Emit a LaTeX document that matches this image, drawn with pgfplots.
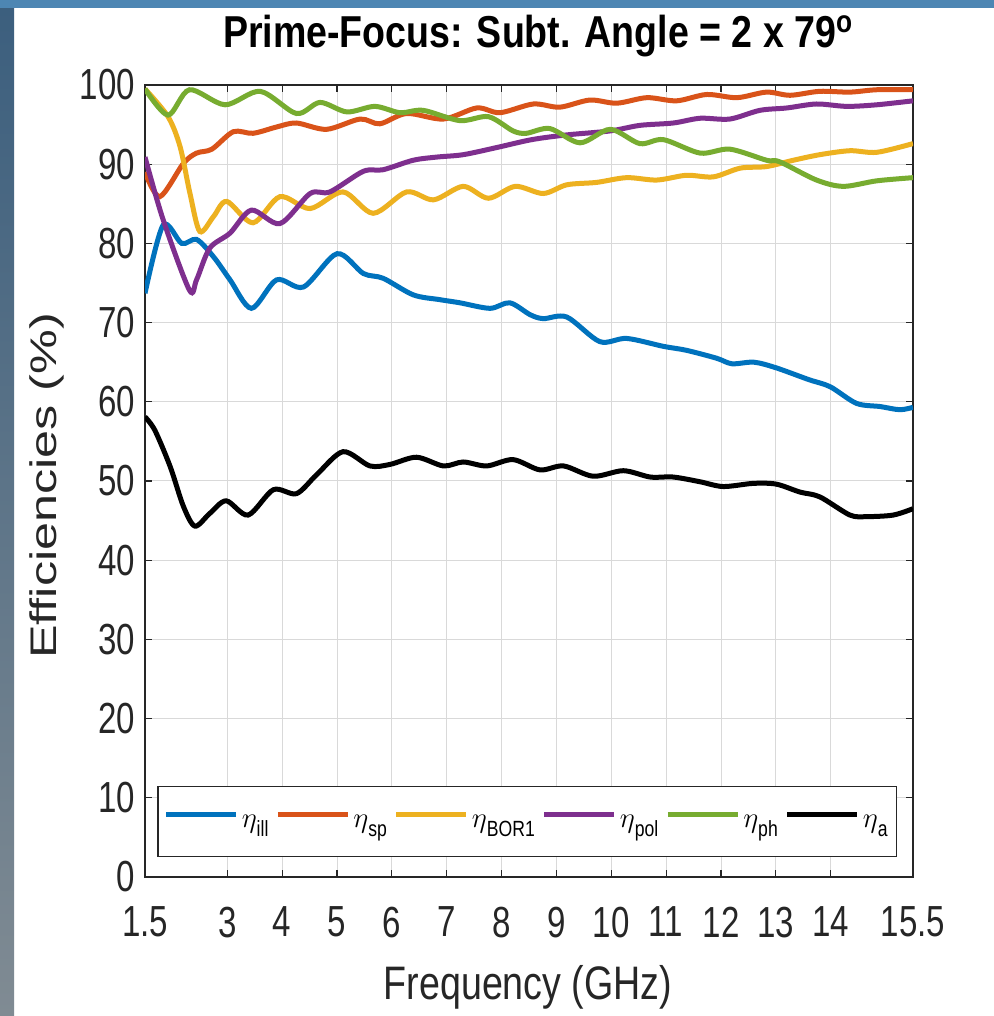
\documentclass[border=0pt]{standalone}
\usepackage{fontspec}
\setmainfont{Liberation Sans}[FakeStretch=0.8]
\newfontfamily\tickfont{Liberation Sans}[FakeStretch=0.76]
\newfontfamily\ylabfont{Liberation Sans}[FakeStretch=1.36]
\newfontfamily\titlefont{Liberation Sans}[FakeStretch=0.84]
\usepackage{pgfplots}
\pgfplotsset{compat=1.18}
\definecolor{mblue}{rgb}{0,0.447,0.741}
\definecolor{morange}{rgb}{0.850,0.325,0.098}
\definecolor{myellow}{rgb}{0.929,0.694,0.125}
\definecolor{mpurple}{rgb}{0.494,0.184,0.556}
\definecolor{mgreen}{rgb}{0.466,0.674,0.188}
\definecolor{axgray}{rgb}{0.15,0.15,0.15}
\definecolor{bandtop}{HTML}{4D86B3}
\definecolor{stripA}{HTML}{3C5F7E}
\definecolor{stripB}{HTML}{808B93}
\newcommand{\leg}[1]{$\eta$\raisebox{-4.5pt}{\fontsize{11}{12}\selectfont #1}}
\begin{document}
\begin{tikzpicture}
\useasboundingbox (0,0) rectangle (497pt,508pt);
\fill[white] (0,0) rectangle (497pt,508pt);
\shade[top color=stripA,bottom color=stripB] (0,0) rectangle (7pt,504pt);
\fill[bandtop] (0,504pt) rectangle (497pt,508pt);
\begin{axis}[
  at={(72.5pt,69.5pt)}, anchor=south west,
  scale only axis, width=384pt, height=396pt,
  xmin=1.5, xmax=15.5, ymin=0, ymax=100,
  xtick={1.5,3,4,5,6,7,8,9,10,11,12,13,14,15.5},
  ytick={0,10,...,100},
  /pgf/number format/assume math mode=true,
  tick label style={font=\tickfont\fontsize{21.75}{24}\selectfont, text=axgray},
  xticklabel style={yshift=-11.5pt},
  yticklabel style={xshift=-1.5pt},
  tick align=inside,
  major tick length=3.5pt,
  every tick/.style={axgray, line width=0.6pt},
  axis line style={axgray, line width=0.9pt},
  grid=major,
  major grid style={gray!30, line width=0.5pt},
  title={\titlefont\bfseries Prime-Focus: Subt. Angle = 2 x 79\textsuperscript{o}},
  title style={at={(axis description cs:0.512,1.0316)}, anchor=base, font=\fontsize{22.35}{26}\selectfont},
  xlabel={Frequency (GHz)},
  xlabel style={at={(axis description cs:0.4987,-0.155)}, anchor=base, font=\fontsize{23.5}{26}\selectfont, text=axgray},
  ylabel={\ylabfont Efficiencies (\%)},
  ylabel style={at={(axis description cs:-0.1146,0.494)}, anchor=base, font=\fontsize{18.5}{20}\selectfont, text=axgray},
  legend columns=6,
  legend cell align=left,
  legend image code/.code={\draw[#1] (0pt,3.5pt) -- (35pt,3.5pt);},
  legend style={at={(axis description cs:0.0156,0.025)}, anchor=south west,
    draw=axgray, line width=0.8pt, fill=white, inner xsep=3pt, inner ysep=4pt,
    font=\fontsize{13.5}{15}\selectfont,
    /tikz/every even column/.append style={column sep=2pt},
    nodes={inner xsep=1.5pt, inner ysep=2pt, text height=14.5pt, text depth=8.5pt}},
  every axis plot/.append style={line width=2.5pt, smooth, tension=0.5},
]
\addplot[mblue] coordinates {(1.5,73.7)(1.83,82.3)(2.17,80.0)(2.44,80.5)(2.75,78.3)(3.05,75.4)(3.44,71.8)(3.9,75.4)(4.39,74.5)(5.0,78.7)(5.48,76.2)(5.84,75.6)(6.39,73.5)(6.87,72.9)(7.24,72.5)(7.79,71.8)(8.15,72.5)(8.52,71.0)(8.76,70.5)(9.19,70.7)(9.79,67.6)(10.28,68.0)(10.95,67.0)(11.37,66.5)(11.92,65.5)(12.2,64.8)(12.6,65.0)(13.0,64.3)(13.6,62.8)(13.99,61.9)(14.47,59.8)(14.9,59.4)(15.26,59.0)(15.5,59.3)};
\addlegendentry{\leg{ill}}
\addplot[morange] coordinates {(1.5,89.0)(1.77,85.9)(2.2,90.1)(2.44,91.4)(2.72,91.9)(3.11,94.1)(3.47,93.9)(3.9,94.7)(4.26,95.2)(4.81,94.4)(5.42,95.7)(5.78,95.1)(6.27,96.4)(6.94,95.7)(7.55,97.1)(7.97,96.5)(8.58,97.6)(9.06,97.2)(9.61,98.1)(10.1,97.7)(10.65,98.4)(11.19,98.0)(11.74,98.8)(12.29,98.4)(12.83,99.1)(13.26,98.7)(13.8,99.2)(14.35,99.1)(14.84,99.4)(15.5,99.4)};
\addlegendentry{\leg{sp}}
\addplot[myellow] coordinates {(1.5,99.5)(1.92,96.0)(2.14,92.2)(2.32,86.3)(2.5,81.5)(2.75,83.4)(2.99,85.3)(3.47,82.6)(3.96,85.9)(4.51,84.4)(5.11,86.5)(5.66,83.8)(6.27,86.5)(6.76,85.5)(7.3,87.2)(7.76,85.7)(8.25,87.2)(8.76,86.3)(9.19,87.4)(9.73,87.7)(10.28,88.3)(10.83,88.0)(11.37,88.6)(11.86,88.4)(12.35,89.5)(12.83,89.7)(13.32,90.5)(13.8,91.2)(14.35,91.7)(14.84,91.5)(15.5,92.6)};
\addlegendentry{\leg{BOR1}}
\addplot[mpurple] coordinates {(1.5,90.9)(1.83,83.0)(2.31,74.1)(2.44,75.4)(2.68,79.4)(3.05,81.3)(3.44,84.2)(3.96,82.5)(4.51,86.3)(4.87,86.5)(5.48,89.1)(5.84,89.3)(6.39,90.5)(6.82,90.9)(7.3,91.2)(7.91,92.1)(8.55,93.1)(9.19,93.7)(9.98,94.2)(10.52,94.9)(11.13,95.2)(11.62,95.8)(12.16,95.7)(12.71,96.8)(13.2,97.1)(13.74,97.6)(14.29,97.3)(14.84,97.5)(15.5,98.0)};
\addlegendentry{\leg{pol}}
\addplot[mgreen] coordinates {(1.5,99.5)(1.92,96.2)(2.31,99.4)(2.96,97.5)(3.6,99.2)(4.26,96.4)(4.69,97.8)(5.18,96.6)(5.69,97.3)(6.15,96.5)(6.57,96.8)(7.24,95.5)(7.76,96.0)(8.21,94.2)(8.45,93.9)(8.88,94.5)(9.43,92.7)(9.98,94.4)(10.52,92.6)(10.95,93.1)(11.62,91.4)(12.16,91.9)(12.83,90.5)(13.07,90.3)(13.74,88.0)(14.23,87.2)(14.84,87.9)(15.5,88.3)};
\addlegendentry{\leg{ph}}
\addplot[black] coordinates {(1.5,58.1)(1.68,56.4)(1.96,51.8)(2.2,46.8)(2.41,44.3)(2.68,45.9)(2.98,47.5)(3.38,45.7)(3.84,48.9)(4.26,48.4)(4.63,50.8)(5.11,53.7)(5.6,51.9)(5.97,52.1)(6.45,53.0)(6.94,51.9)(7.3,52.4)(7.73,51.9)(8.21,52.7)(8.7,51.4)(9.13,51.9)(9.67,50.6)(10.22,51.3)(10.71,50.5)(11.13,50.5)(11.62,49.9)(12.04,49.3)(12.59,49.7)(13.01,49.6)(13.44,48.6)(13.8,48.0)(14.35,45.7)(14.66,45.5)(15.14,45.7)(15.5,46.5)};
\addlegendentry{\leg{a}}
\end{axis}
\end{tikzpicture}
\end{document}
